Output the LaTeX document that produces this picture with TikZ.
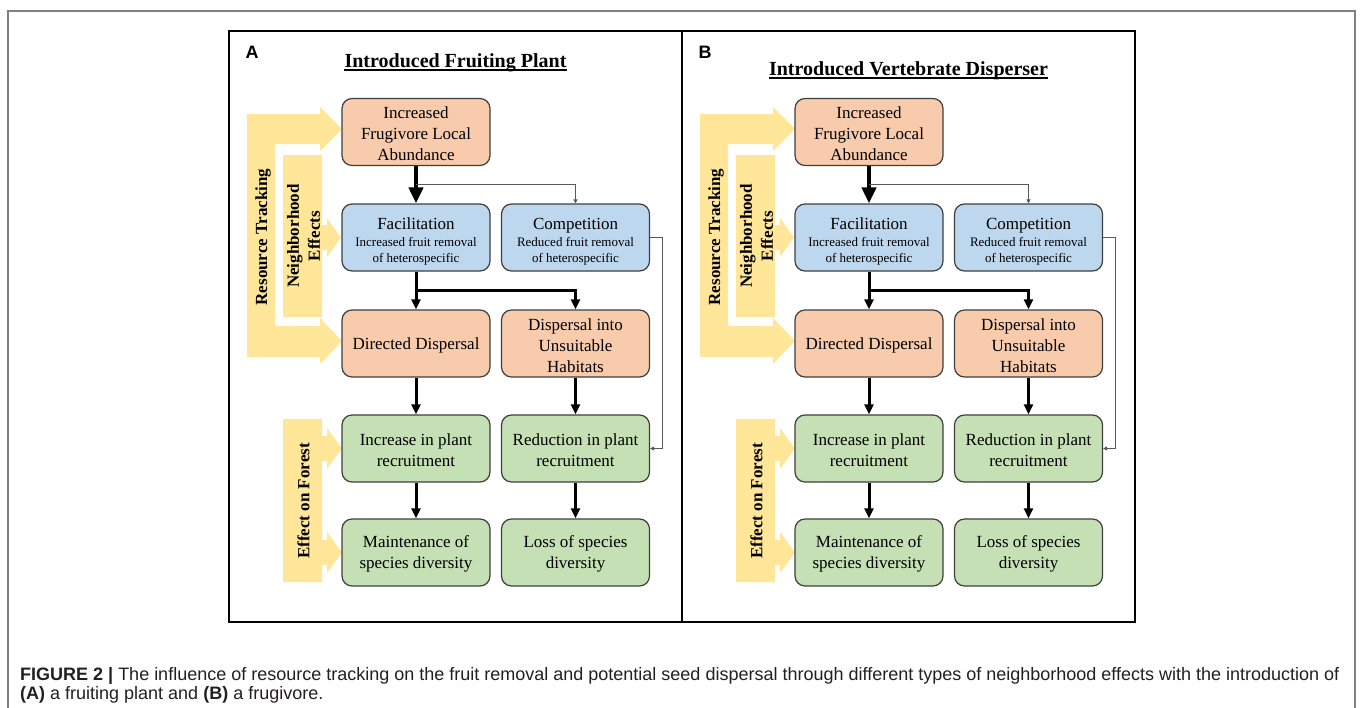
\documentclass[tikz,border=0pt]{standalone}
\usepackage{fontspec}
\setmainfont{Liberation Serif}
\setsansfont{Liberation Sans}
\newfontfamily\captionfont{Liberation Sans}
\usetikzlibrary{arrows.meta}

\definecolor{boxorange}{HTML}{F8CBAD}
\definecolor{boxblue}{HTML}{BDD7EE}
\definecolor{boxgreen}{HTML}{C5E0B4}
\definecolor{bandyellow}{HTML}{FFE699}
\definecolor{boxline}{HTML}{3F3F3F}
\definecolor{framegray}{HTML}{808080}
\definecolor{thingray}{HTML}{595959}
\definecolor{captiongray}{HTML}{231F20}

% two small lines under a box heading
\newcommand\smalldesc[2]{{\fontsize{13}{16}\selectfont\raisebox{0pt}[\height][15pt]{\begin{tabular}[t]{@{}c@{}}#1\\#2\end{tabular}}}}

\tikzset{
    flowbox/.style={draw=boxline, line width=1.2pt, rounded corners=10pt,
        minimum width=148pt, minimum height=67pt, inner sep=0pt,
        text width=146pt, align=flush center,
        font=\fontsize{17}{21}\selectfont,
        execute at begin node={\rule{0pt}{15.6pt}}},
    band/.style={fill=bandyellow, draw=none},
    bandtext/.style={rotate=90, align=center, inner sep=0pt,
        font=\bfseries\fontsize{17}{21}\selectfont},
    mainarrow/.style={line width=4.5pt, -{Triangle[length=16pt,width=14pt]}},
    steparrow/.style={line width=3pt, -{Triangle[length=10pt,width=9pt]}},
    sidearrow/.style={draw=thingray, line width=1pt, -{Triangle[length=4pt,width=4pt]}}
}

\begin{document}
\begin{tikzpicture}[x=1pt,y=-1pt]
    % Define columns and rows (px of the page)
    \def\colL{416}
    \def\colR{575.5}
    \def\rowA{132}
    \def\rowB{237.5}
    \def\rowC{343.5}
    \def\rowD{448.5}
    \def\rowE{552.5}

    \useasboundingbox (0,0) rectangle (1360,707);

    % Outer frame and panel frames
    \draw[framegray, line width=1.5pt] (8,710) -- (8,11) -- (1355,11) -- (1355,710);
    \draw[line width=1.5pt] (229,31) rectangle (1135,622);
    \draw[line width=1.5pt] (682,31) -- (682,622);

    % Both panels
    \foreach \p/\dx/\ty/\title in {A/0/67/Introduced Fruiting Plant, B/453/75/Introduced Vertebrate Disperser} {
        \begin{scope}[xshift=\dx pt]
            % Panel letter and title
            \node[anchor=base, inner sep=0pt, font=\sffamily\bfseries\fontsize{18}{20}\selectfont] (label\p) at (252,58) {\p};
            \node[anchor=base, inner sep=0pt, font=\bfseries\fontsize{20}{24}\selectfont] (title\p) at (455.5,\ty) {\title};
            \draw[line width=1.3pt] ([yshift=-3pt]title\p.base west) -- ([yshift=-3pt]title\p.base east);

            % Yellow bands
            \fill[band] (247,114) -- (320,114) -- (320,107) -- (342,129) -- (320,151) -- (320,144)
                -- (275,144) -- (275,326) -- (320,326) -- (320,318) -- (342,341) -- (320,364)
                -- (320,357) -- (247,357) -- cycle;
            \fill[band] (283,155) -- (322,155) -- (322,225) -- (327,225) -- (327,218) -- (341,237.5)
                -- (327,257) -- (327,250) -- (322,250) -- (322,317) -- (283,317) -- cycle;
            \fill[band] (283,419) -- (322,419) -- (322,436) -- (327,436) -- (327,428) -- (342,448.5)
                -- (327,469) -- (327,461) -- (322,461) -- (322,540) -- (327,540) -- (327,532)
                -- (342,552.5) -- (327,573) -- (327,565) -- (322,565) -- (322,582) -- (283,582) -- cycle;
            \node[bandtext] (track\p) at (263,237) {Resource Tracking};
            \node[bandtext] (neigh\p) at (303.5,236) {Neighborhood\\Effects};
            \node[bandtext] (forest\p) at (303.5,501) {Effect on Forest};

            % Boxes
            \node[flowbox, fill=boxorange] (inc\p) at (\colL,\rowA) {Increased\\Frugivore Local\\Abundance};
            \node[flowbox, fill=boxblue] (fac\p) at (\colL,\rowB) {Facilitation\\[-4pt]\smalldesc{Increased fruit removal}{of heterospecific}};
            \node[flowbox, fill=boxblue] (comp\p) at (\colR,\rowB) {Competition\\[-4pt]\smalldesc{Reduced fruit removal}{of heterospecific}};
            \node[flowbox, fill=boxorange] (dir\p) at (\colL,\rowC) {Directed Dispersal};
            \node[flowbox, fill=boxorange] (unsuit\p) at (\colR,\rowC) {Dispersal into\\Unsuitable\\Habitats};
            \node[flowbox, fill=boxgreen] (incr\p) at (\colL,\rowD) {Increase in plant\\recruitment};
            \node[flowbox, fill=boxgreen] (red\p) at (\colR,\rowD) {Reduction in plant\\recruitment};
            \node[flowbox, fill=boxgreen] (main\p) at (\colL,\rowE) {Maintenance of\\species diversity};
            \node[flowbox, fill=boxgreen] (loss\p) at (\colR,\rowE) {Loss of species\\diversity};

            % Connectors
            \draw[mainarrow] (inc\p.south) -- (fac\p.north);
            \draw[sidearrow] ([yshift=-18pt]inc\p.south) -| (comp\p.north);
            \draw[steparrow] (fac\p.south) -- (dir\p.north);
            \draw[steparrow] ([yshift=-19pt]fac\p.south) -| (unsuit\p.north);
            \draw[steparrow] (dir\p.south) -- (incr\p.north);
            \draw[steparrow] (unsuit\p.south) -- (red\p.north);
            \draw[steparrow] (incr\p.south) -- (main\p.north);
            \draw[steparrow] (red\p.south) -- (loss\p.north);
            \draw[sidearrow] (comp\p.east) -- ++(12,0) |- (red\p.east);
        \end{scope}
    }

    % Caption
    \node[anchor=north west, align=left, inner sep=0pt, text=captiongray,
        font=\captionfont\fontsize{18}{19}\selectfont] (caption) at (20,667)
        {\textbf{FIGURE 2 |} The influence of resource tracking on the fruit removal and potential seed dispersal through different types of neighborhood effects with the introduction of\\
        \textbf{(A)} a fruiting plant and \textbf{(B)} a frugivore.};
\end{tikzpicture}
\end{document}
